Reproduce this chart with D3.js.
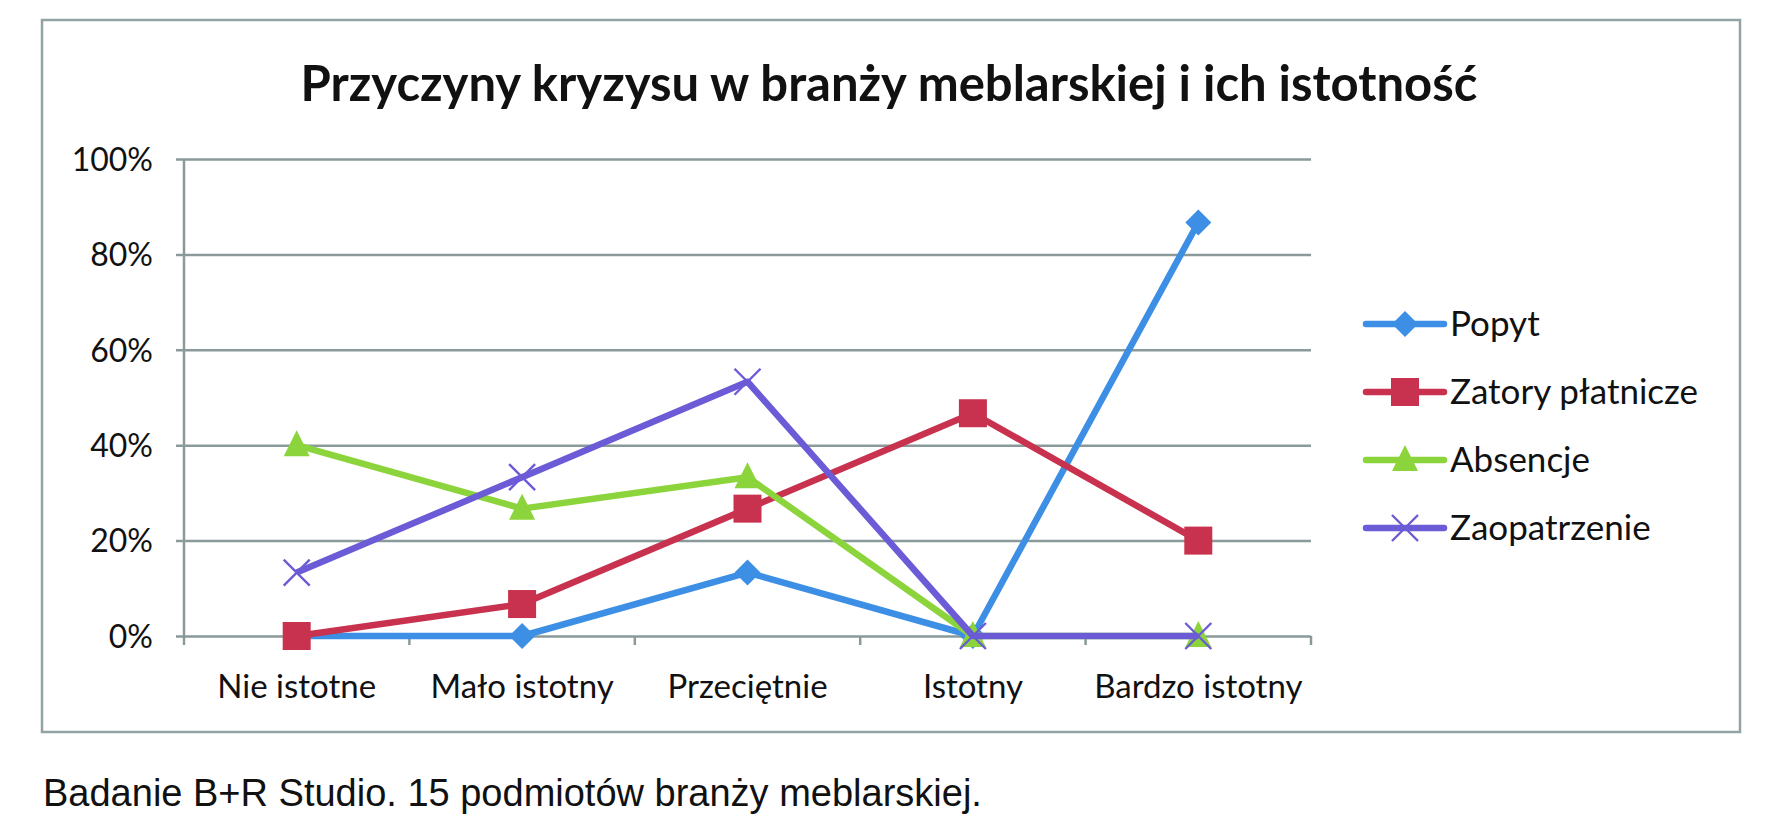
<!DOCTYPE html>
<html>
<head>
<meta charset="utf-8">
<script src="https://cdn.jsdelivr.net/npm/d3@7"></script>
<style>
  body { margin: 0; background: #fff; }
  text { font-family: Lato, "Open Sans", sans-serif; fill: #111; }
</style>
</head>
<body>
<script>
// categories and series (share of 15 firms, in %)
var categories = ["Nie istotne", "Mało istotny", "Przeciętnie", "Istotny", "Bardzo istotny"];
var seriesNames = ["Popyt", "Zatory płatnicze", "Absencje", "Zaopatrzenie"];
var popyt = [0, 0, 13.3, 0, 86.7];
var zatory = [0, 6.7, 26.7, 46.7, 20];
var absencje = [40, 26.7, 33.3, 0, 0];
var zaopatrzenie = [13.3, 33.3, 53.3, 0, 0];
var yTicks = [0, 20, 40, 60, 80, 100];

var colors = ["#3d8fe6", "#c8324e", "#8cd43c", "#6b5bd6"];
var shapes = ["diamond", "square", "triangle", "cross"];
var values = [popyt, zatory, absencje, zaopatrzenie];

var W = 1772, H = 821;
var margin = {top: 159, left: 184};
var width = 1311 - 184, height = 636 - 159;

var svg = d3.select("body").append("svg")
    .attr("width", W)
    .attr("height", H);

// outer frame of the chart
svg.append("rect")
    .attr("x", 42).attr("y", 20)
    .attr("width", 1698).attr("height", 712)
    .attr("fill", "none")
    .attr("stroke", "#93a3a3")
    .attr("stroke-width", 2.5);

// title
svg.append("text")
    .attr("x", 889)
    .attr("y", 101)
    .attr("text-anchor", "middle")
    .style("font-size", "49px")
    .style("font-weight", "bold")
    .text("Przyczyny kryzysu w branży meblarskiej i ich istotność");

var g = svg.append("g")
    .attr("transform", "translate(" + margin.left + "," + margin.top + ")");

var x = d3.scaleBand().domain(categories).range([0, width]);
var y = d3.scaleLinear().domain([0, 100]).range([height, 0]);

// gridlines + y axis
var yAxis = g.append("g")
    .call(d3.axisLeft(y).tickValues(yTicks).tickSize(-width).tickSizeOuter(0)
        .tickFormat(function(d) { return d + "%"; }));
yAxis.select(".domain").remove();
yAxis.selectAll("line")
    .attr("x1", -8)
    .attr("x2", width)
    .attr("stroke", "#8a9a9a")
    .attr("stroke-width", 2.5);
yAxis.selectAll("text")
    .attr("x", -31)
    .attr("dy", "0.35em")
    .style("font-size", "32px")
    .style("font-family", "Lato, sans-serif")
    .attr("fill", "#111");

// vertical axis line
g.append("line")
    .attr("x1", 0).attr("x2", 0)
    .attr("y1", 0).attr("y2", height)
    .attr("stroke", "#8a9a9a")
    .attr("stroke-width", 2.5);

// x axis with ticks at band boundaries
var xAxis = g.append("g")
    .attr("transform", "translate(0," + height + ")")
    .call(d3.axisBottom(x).tickSize(0).tickSizeOuter(0));
xAxis.select(".domain").remove();
xAxis.selectAll("text")
    .attr("y", 62)
    .attr("dy", "0")
    .style("font-size", "33px")
    .style("font-family", "Lato, sans-serif")
    .attr("fill", "#111");
var bounds = categories.map(function(c) { return x(c); }).concat([width]);
xAxis.selectAll(".btick")
    .data(bounds)
    .enter().append("line")
    .attr("x1", function(d) { return d; })
    .attr("x2", function(d) { return d; })
    .attr("y1", 0).attr("y2", 9)
    .attr("stroke", "#8a9a9a")
    .attr("stroke-width", 2.5);

var cx = function(i) { return x(categories[i]) + x.bandwidth() / 2; };

function drawMarker(sel, shape, color, px, py, s) {
  if (shape === "diamond") {
    sel.append("path")
      .attr("d", "M" + px + "," + (py - s) + "L" + (px + s) + "," + py + "L" + px + "," + (py + s) + "L" + (px - s) + "," + py + "Z")
      .attr("fill", color);
  } else if (shape === "square") {
    sel.append("rect")
      .attr("x", px - s).attr("y", py - s)
      .attr("width", 2 * s).attr("height", 2 * s)
      .attr("fill", color);
  } else if (shape === "triangle") {
    sel.append("path")
      .attr("d", "M" + px + "," + (py - s * 1.15) + "L" + (px + s) + "," + (py + s * 0.85) + "L" + (px - s) + "," + (py + s * 0.85) + "Z")
      .attr("fill", color);
  } else {
    sel.append("path")
      .attr("d", "M" + (px - s) + "," + (py - s) + "L" + (px + s) + "," + (py + s) + "M" + (px + s) + "," + (py - s) + "L" + (px - s) + "," + (py + s))
      .attr("stroke", color)
      .attr("stroke-width", 2.4)
      .attr("fill", "none");
  }
}

var line = d3.line()
    .x(function(d, i) { return cx(i); })
    .y(function(d) { return y(d); });

var markerSize = [13, 14, 13, 13];

values.forEach(function(vals, k) {
  var sg = g.append("g");
  sg.append("path")
    .datum(vals)
    .attr("fill", "none")
    .attr("stroke", colors[k])
    .attr("stroke-width", 6.5)
    .attr("stroke-linejoin", "round")
    .attr("d", line);
  vals.forEach(function(v, i) {
    drawMarker(sg, shapes[k], colors[k], cx(i), y(v), markerSize[k]);
  });
});

// legend
var legend = svg.append("g");
seriesNames.forEach(function(name, k) {
  var ly = 324 + k * 68;
  legend.append("line")
    .attr("x1", 1366).attr("x2", 1444)
    .attr("y1", ly).attr("y2", ly)
    .attr("stroke", colors[k])
    .attr("stroke-width", 6.5)
    .attr("stroke-linecap", "round");
  drawMarker(legend, shapes[k], colors[k], 1405, ly, markerSize[k]);
  legend.append("text")
    .attr("x", 1450)
    .attr("y", ly)
    .attr("dy", "0.35em")
    .style("font-size", "35px")
    .text(name);
});

// source note
svg.append("text")
    .attr("x", 43)
    .attr("y", 806)
    .style("font-family", "'Liberation Sans', Arial, sans-serif")
    .style("font-size", "38px")
    .text("Badanie B+R Studio. 15 podmiotów branży meblarskiej.");
</script>
</body>
</html>
